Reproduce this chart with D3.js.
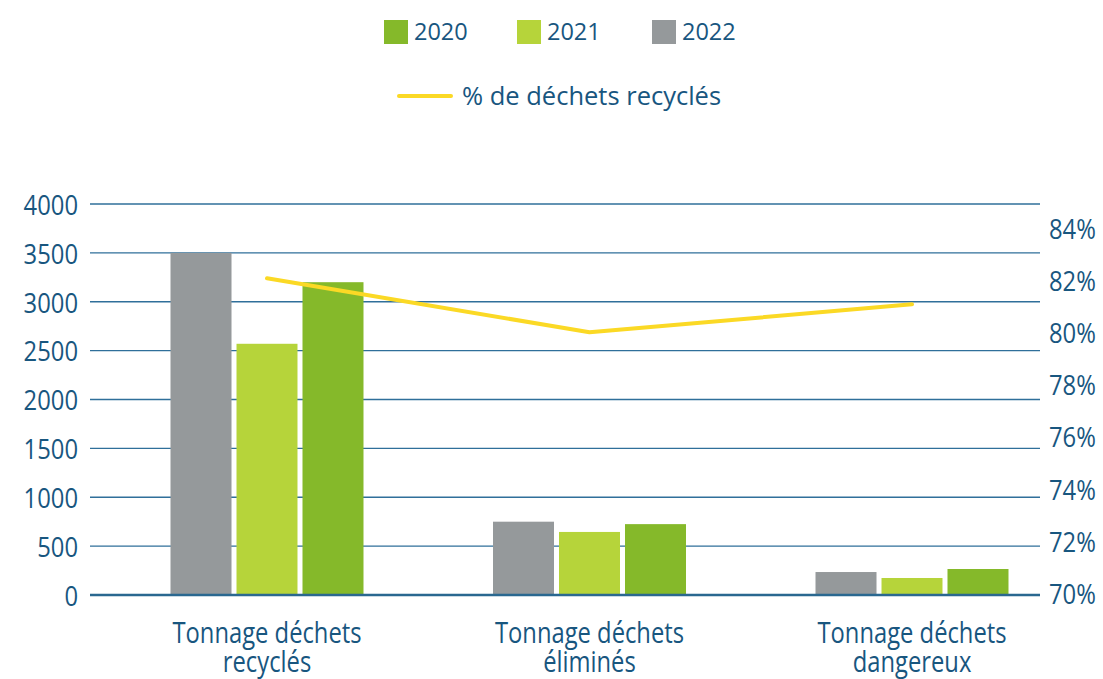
<!DOCTYPE html>
<html>
<head>
<meta charset="utf-8">
<script src="https://cdn.jsdelivr.net/npm/d3@7"></script>
<style>
  html, body { margin: 0; padding: 0; background: #fff; }
  svg { display: block; font-family: "Open Sans", sans-serif; }
</style>
</head>
<body>
<svg id="chart" width="1103" height="679"></svg>
<script>
// ==================== DATA ====================
const categories = ['Tonnage déchets recyclés', 'Tonnage déchets éliminés', 'Tonnage déchets dangereux'];
const categoryLines = [['Tonnage déchets', 'recyclés'], ['Tonnage déchets', 'éliminés'], ['Tonnage déchets', 'dangereux']];
const barYears = ['2022', '2021', '2020'];           // order of bars inside a group
const legendYears = ['2020', '2021', '2022'];        // order in legend
const values2020 = [3200, 725, 266];
const values2021 = [2570, 645, 174];
const values2022 = [3500, 750, 235];
const pctRecycled = [82.15, 80.08, 81.15];
const leftTicks = [0, 500, 1000, 1500, 2000, 2500, 3000, 3500, 4000];
const rightTicks = [70, 72, 74, 76, 78, 80, 82, 84];
const lineLabel = '% de déchets recyclés';

const seriesValues = { '2020': values2020, '2021': values2021, '2022': values2022 };
const colors = { '2020': '#85b92a', '2021': '#b6d43a', '2022': '#95999b' };
const textColor = '#18567f';
const gridColor = '#2f6f9a';
const lineColor = '#fbd925';

// ==================== LAYOUT ====================
const svg = d3.select('#chart');
const plotLeft = 90, plotRight = 1040;
const y0 = 595, yTop = 204;

const x = d3.scaleBand()
  .domain(categories)
  .range([105.75, 1073.25])
  .paddingInner(0.4016)
  .paddingOuter(0.2008);

const xInner = d3.scaleBand()
  .domain(barYears)
  .range([0, x.bandwidth()])
  .paddingInner(5 / 66);

const yLeft = d3.scaleLinear().domain([0, 4000]).range([y0, yTop]);
const yRight = d3.scaleLinear().domain([70, 85]).range([y0, yTop]);

// grid lines
svg.append('g')
  .selectAll('line')
  .data(leftTicks.filter((d) => d > 0))
  .join('line')
  .attr('x1', plotLeft)
  .attr('x2', plotRight)
  .attr('y1', (d) => yLeft(d))
  .attr('y2', (d) => yLeft(d))
  .attr('stroke', gridColor)
  .attr('stroke-width', 1.4);

// left tick labels
svg.append('g')
  .selectAll('g')
  .data(leftTicks)
  .join('g')
  .attr('transform', (d) => `translate(78, ${yLeft(d)}) scale(0.85, 1)`)
  .append('text')
  .attr('text-anchor', 'end')
  .attr('dominant-baseline', 'central')
  .attr('font-size', '28px')
  .attr('fill', textColor)
  .text((d) => d);

// right tick labels
svg.append('g')
  .selectAll('g')
  .data(rightTicks)
  .join('g')
  .attr('transform', (d) => `translate(1049, ${yRight(d) - 2}) scale(0.85, 1)`)
  .append('text')
  .attr('text-anchor', 'start')
  .attr('dominant-baseline', 'central')
  .attr('font-size', '28px')
  .attr('fill', textColor)
  .text((d) => d + '%');

// bars
const groups = svg.append('g')
  .selectAll('g')
  .data(categories)
  .join('g')
  .attr('transform', (d) => `translate(${x(d)}, 0)`);

groups.selectAll('rect')
  .data((d, i) => barYears.map((yr) => ({ yr, v: seriesValues[yr][i] })))
  .join('rect')
  .attr('x', (d) => xInner(d.yr))
  .attr('y', (d) => yLeft(d.v))
  .attr('width', xInner.bandwidth())
  .attr('height', (d) => y0 - yLeft(d.v))
  .attr('fill', (d) => colors[d.yr]);

// baseline
svg.append('line')
  .attr('x1', plotLeft)
  .attr('x2', plotRight)
  .attr('y1', y0)
  .attr('y2', y0)
  .attr('stroke', '#2a6890')
  .attr('stroke-width', 2.5);

// recycled % line
const line = d3.line()
  .x((d, i) => x(categories[i]) + x.bandwidth() / 2)
  .y((d) => yRight(d));

svg.append('path')
  .datum(pctRecycled)
  .attr('d', line)
  .attr('fill', 'none')
  .attr('stroke', lineColor)
  .attr('stroke-width', 4)
  .attr('stroke-linecap', 'round')
  .attr('stroke-linejoin', 'round');

// category labels (one text, two lines)
const catLabels = svg.append('g')
  .selectAll('g')
  .data(categories)
  .join('g')
  .attr('transform', (d) => `translate(${x(d) + x.bandwidth() / 2}, 0) scale(0.82, 1)`);

catLabels.append('text')
  .attr('text-anchor', 'middle')
  .attr('font-size', '29px')
  .attr('fill', textColor)
  .selectAll('tspan')
  .data((d, i) => categoryLines[i])
  .join('tspan')
  .attr('x', 0)
  .attr('y', (t, li) => 643 + li * 29)
  .text((t) => t);

// legend: years
const legendX = { '2020': 384, '2021': 517, '2022': 652 };
const legend = svg.append('g');
legendYears.forEach((yr) => {
  legend.append('rect')
    .attr('x', legendX[yr])
    .attr('y', 20)
    .attr('width', 24)
    .attr('height', 24)
    .attr('fill', colors[yr]);
  legend.append('text')
    .attr('x', legendX[yr] + 30)
    .attr('y', 40)
    .attr('font-size', '23.5px')
    .attr('fill', textColor)
    .text(yr);
});

// legend: line
legend.append('line')
  .attr('x1', 399)
  .attr('x2', 451)
  .attr('y1', 96)
  .attr('y2', 96)
  .attr('stroke', lineColor)
  .attr('stroke-width', 4)
  .attr('stroke-linecap', 'round');
legend.append('text')
  .attr('x', 462)
  .attr('y', 105)
  .attr('font-size', '25.5px')
  .attr('fill', textColor)
  .text(lineLabel);
</script>
</body>
</html>
